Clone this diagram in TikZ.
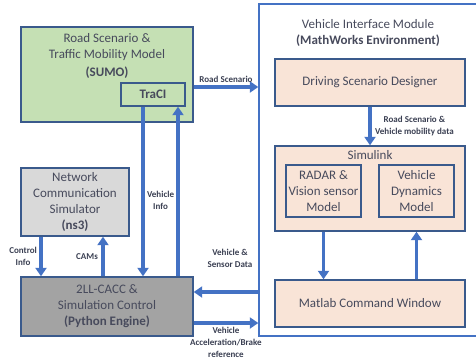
\documentclass[tikz,border=0pt]{standalone}
\usepackage{fontspec}
\setmainfont{Carlito}
\usetikzlibrary{arrows.meta,calc}

\definecolor{boxline}{HTML}{3A5A8C}
\definecolor{flowblue}{HTML}{4472C4}
\definecolor{textgray}{HTML}{474A5C}
\definecolor{labelgray}{HTML}{3A3F52}
\definecolor{sumogreen}{HTML}{C5E0B4}
\definecolor{peach}{HTML}{F9E4D7}
\definecolor{lightgray}{HTML}{D9D9D9}
\definecolor{darkgray}{HTML}{A3A3A3}

\tikzstyle{block}=[draw=boxline,line width=1.4pt,inner sep=0pt,text=textgray,font=\fontsize{13}{16}\selectfont,align=center]
\tikzstyle{caption}=[text=textgray,font=\fontsize{13}{16}\selectfont,align=center,inner sep=0pt]
\tikzstyle{flow}=[draw=flowblue,line width=3.2pt,-{Triangle[width=11pt,length=8.5pt]}]
\tikzstyle{tag}=[text=labelgray,font=\bfseries\fontsize{9}{12}\selectfont,align=center,inner sep=1.5pt]

\begin{document}
\begin{tikzpicture}[x=1pt,y=-1pt]
	\useasboundingbox (0,0) rectangle (476,359);
	% Blocks on the left
	\node[block,fill=sumogreen,minimum width=172pt,minimum height=95pt] (sumo) at (107,74.5) {};
	\node[caption] (sumotext) at (107,56) {Road Scenario \&\\Traffic Mobility Model\\[2pt]\textbf{(SUMO)}};
	\node[block,fill=sumogreen,font=\bfseries\fontsize{13}{16}\selectfont,minimum width=64pt,minimum height=23pt] (traci) at (153,94.5) {TraCI};
	\node[block,fill=lightgray,minimum width=108pt,minimum height=68pt] (ns) at (75,202) {Network\\Communication\\Simulator\\\textbf{(ns3)}};
	\node[block,fill=darkgray,minimum width=172pt,minimum height=59pt] (python) at (107,306.5) {2LL-CACC \&\\Simulation Control\\\textbf{(Python Engine)}};
	% Vehicle interface module
	\node[block,draw=flowblue,minimum width=226pt,minimum height=332pt] (vim) at (372,170) {};
	\node[caption] (vimtext) at (368,33) {Vehicle Interface Module\\\textbf{(MathWorks Environment)}};
	\node[block,fill=peach,minimum width=190pt,minimum height=47pt] (dsd) at (370,82.5) {Driving Scenario Designer};
	\node[block,fill=peach,minimum width=190pt,minimum height=85pt] (simulink) at (370,188.5) {};
	\node[caption] (simtext) at (370,155) {Simulink};
	\node[block,fill=peach,minimum width=75pt,minimum height=52pt] (radar) at (323.5,191) {RADAR \&\\Vision sensor\\Model};
	\node[block,fill=peach,minimum width=75pt,minimum height=52pt] (vdyn) at (416.5,191) {Vehicle\\Dynamics\\Model};
	\node[block,fill=peach,minimum width=190pt,minimum height=47pt] (matlab) at (370,303.5) {Matlab Command Window};
	% Connectors
	\coordinate (rs) at ([yshift=-12.5pt]sumo.east);
	\draw[flow] (rs) -- node[tag,above,yshift=1.5pt] (rslabel) {Road Scenario} (rs -| vim.west);
	\draw[flow] (dsd.south) -- node[tag,right,xshift=2pt] (dsdlabel) {Road Scenario \&\\Vehicle mobility data} (simulink.north);
	\draw[flow] (radar.south |- simulink.south) -- (radar.south |- matlab.north);
	\draw[flow] (vdyn.south |- matlab.north) -- (vdyn.south |- simulink.south);
	\draw[flow] ([xshift=-34pt]ns.south) -- node[tag,left,xshift=-1pt] (cilabel) {Control\\Info} ([xshift=-34pt]ns.south |- python.north);
	\draw[flow] ([xshift=28pt]ns.south |- python.north) -- node[tag,left,xshift=-2pt] (camlabel) {CAMs} ([xshift=28pt]ns.south);
	\draw[flow] ([xshift=-10pt]traci.south) -- node[tag,right,pos=0.55,xshift=1pt] (vilabel) {Vehicle\\Info} ([xshift=-10pt]traci.south |- python.north);
	\draw[flow] ([xshift=25pt]traci.south |- python.north) -- ([xshift=25pt]traci.south);
	\coordinate (sd) at ([yshift=14.5pt]python.east);
	\draw[flow] (sd -| vim.west) -- (sd);
	\node[tag] (sdlabel) at (230,258.5) {Vehicle \&\\Sensor Data};
	\coordinate (ab) at ([yshift=-16.5pt]python.east);
	\draw[flow] (ab) -- node[tag,below,yshift=-1pt] (ablabel) {Vehicle\\Acceleration/Brake\\reference} (ab -| vim.west);
\end{tikzpicture}
\end{document}
